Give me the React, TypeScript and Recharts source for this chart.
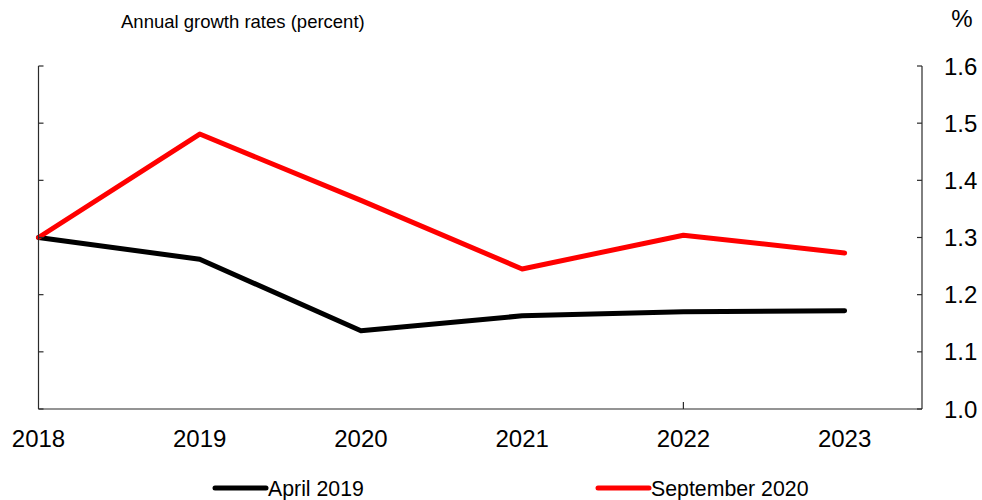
import React from 'react';
import { Line, LineChart, XAxis, YAxis } from 'recharts';

const FONT = '"Liberation Sans", Arial, Helvetica, sans-serif';
const AXIS_STROKE = '#2b2b2b';

const years = [2018, 2019, 2020, 2021, 2022, 2023];
const april2019 = [1.3, 1.262, 1.137, 1.163, 1.17, 1.172];
const september2020 = [1.3, 1.481, 1.365, 1.245, 1.304, 1.273];
const yTicks = [1.0, 1.1, 1.2, 1.3, 1.4, 1.5, 1.6];
const Y_DOMAIN: [number, number] = [1.0, 1.6];
const markedYears = [2022];

// both axes share the same domain, so each series can sit on either one
const series = [
  { key: 'april2019', name: 'April 2019', color: '#000000', axis: 'left' },
  { key: 'september2020', name: 'September 2020', color: '#ff0000', axis: 'right' },
];

const data = years.map((year, i) => ({
  year,
  april2019: april2019[i],
  september2020: september2020[i],
}));

const X_TICK_GAP = 21;

function YearTick({ x, y, payload }: any) {
  const marked = markedYears.includes(payload.value);
  return (
    <g>
      {marked && (
        <line x1={x} x2={x} y1={y - X_TICK_GAP} y2={y - X_TICK_GAP - 7} stroke={AXIS_STROKE} strokeWidth={1.2} />
      )}
      <text x={x} y={y} dy={17} textAnchor="middle" fontSize={24} fontFamily={FONT} fill="#000">
        {payload.value}
      </text>
    </g>
  );
}

// left axis keeps its tick marks but shows no labels
const NoLabel = () => <g />;

export default function App() {
  return (
    <div style={{ position: 'absolute', left: 0, top: 0, width: 982, height: 500, background: '#fff' }}>
      <LineChart width={982} height={500} data={data} margin={{ top: 66, right: 0, left: 38.5, bottom: 41 }}>
        <XAxis
          dataKey="year"
          type="number"
          domain={[2018, 2023.48]}
          ticks={years}
          height={50}
          tickSize={0}
          tickMargin={X_TICK_GAP}
          tickLine={false}
          axisLine={{ stroke: AXIS_STROKE, strokeWidth: 1.2 }}
          tick={<YearTick />}
        />
        <YAxis
          yAxisId="left"
          orientation="left"
          mirror
          width={1}
          domain={Y_DOMAIN}
          ticks={yTicks}
          interval={0}
          tick={<NoLabel />}
          tickSize={5}
          axisLine={{ stroke: AXIS_STROKE, strokeWidth: 1.2 }}
          tickLine={{ stroke: AXIS_STROKE, strokeWidth: 1.2 }}
        />
        <YAxis
          yAxisId="right"
          orientation="right"
          width={60}
          domain={Y_DOMAIN}
          ticks={yTicks}
          interval={0}
          tickSize={-5}
          tickMargin={27}
          tickFormatter={(v: number) => v.toFixed(1)}
          tick={{ fontSize: 24, fontFamily: FONT, fill: '#000' }}
          axisLine={{ stroke: AXIS_STROKE, strokeWidth: 1.2 }}
          tickLine={{ stroke: AXIS_STROKE, strokeWidth: 1.2 }}
        />
        {series.map((s) => (
          <Line
            key={s.key}
            yAxisId={s.axis}
            type="linear"
            dataKey={s.key}
            name={s.name}
            stroke={s.color}
            strokeWidth={5}
            strokeLinecap="round"
            strokeLinejoin="round"
            dot={false}
            activeDot={false}
            isAnimationActive={false}
          />
        ))}
      </LineChart>

      {/* subtitle, unit label and legend */}
      <svg
        width={982}
        height={500}
        style={{ position: 'absolute', left: 0, top: 0, pointerEvents: 'none' }}
        fontFamily={FONT}
      >
        <text x={121} y={28} fontSize={18.5} fill="#000">
          Annual growth rates (percent)
        </text>
        <text x={962} y={27} fontSize={24} textAnchor="middle" fill="#000">
          %
        </text>
        {series.map((s, i) => {
          const x0 = i === 0 ? 215 : 598;
          return (
            <g key={s.key}>
              <line x1={x0} x2={x0 + 51} y1={488} y2={488} stroke={s.color} strokeWidth={5} strokeLinecap="round" />
              <text x={x0 + 53} y={496} fontSize={21.3} fill="#000">
                {s.name}
              </text>
            </g>
          );
        })}
      </svg>
    </div>
  );
}
